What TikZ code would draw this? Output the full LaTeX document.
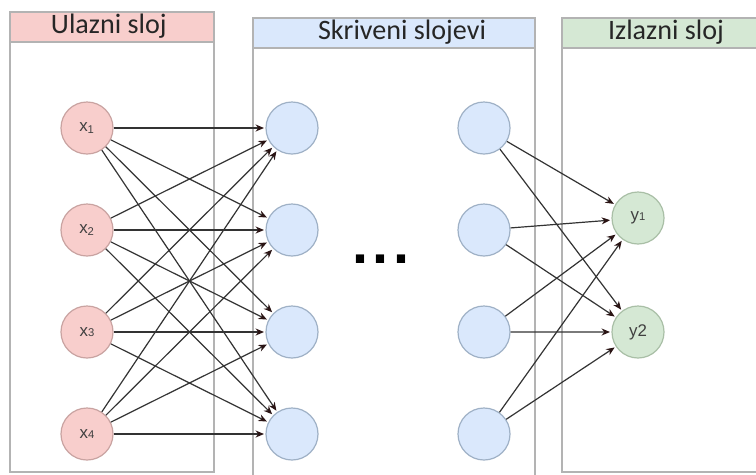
\documentclass[tikz,border=0pt]{standalone}
\usepackage{fontspec}
\setmainfont{Liberation Sans}
\newfontfamily\titlefont{Carlito}
\usetikzlibrary{arrows.meta}
\definecolor{inred}{HTML}{F8CECC}
\definecolor{inredline}{HTML}{C9A3A1}
\definecolor{hidblue}{HTML}{DAE8FC}
\definecolor{hidblueline}{HTML}{9FB1C6}
\definecolor{outgreen}{HTML}{D5E8D4}
\definecolor{outgreenline}{HTML}{A9BFA6}
\definecolor{boxgray}{HTML}{B3B3B3}
\definecolor{wiregray}{HTML}{333333}
\definecolor{tipdark}{HTML}{2A1414}
\tikzstyle{inneuron} = [circle, minimum size=1.3cm, inner sep=0pt,
                        draw=inredline, fill=inred, line width=0.3mm,
                        text=black!75, font=\fontsize{12}{14}\selectfont]
\tikzstyle{hidneuron} = [circle, minimum size=1.3cm, inner sep=0pt,
                         draw=hidblueline, fill=hidblue, line width=0.3mm]
\tikzstyle{outneuron} = [circle, minimum size=1.3cm, inner sep=0pt,
                         draw=outgreenline, fill=outgreen, line width=0.3mm,
                         text=black!75, font=\fontsize{12}{14}\selectfont]
\tikzstyle{layer} = [draw=boxgray, line width=0.3mm]
\tikzstyle{layertitle} = [text=black!85, font=\titlefont\fontsize{20}{22}\selectfont]
\tikzstyle{arrow} = [draw=wiregray, line width=0.3mm,
                     -{Stealth[length=6pt, width=5pt, color=tipdark]}, shorten >=1pt]

\begin{document}
\begin{tikzpicture}[node distance=2.55cm]
        \clip (0,0) rectangle (18.9,-11.85);
        \fill[white] (0,0) rectangle (18.9,-11.85);

        %Layer boxes
        \draw [layer] (0.25,-1.05) rectangle (5.35,-11.8);
        \draw [layer, fill=inred] (0.25,-0.3) rectangle (5.35,-1.05);
        \node (inTitle) at (2.72,-0.66) [layertitle] {Ulazni sloj};

        \draw [layer] (6.325,-1.2) rectangle (13.375,-12.2);
        \draw [layer, fill=hidblue] (6.325,-0.45) rectangle (13.375,-1.2);
        \node (hidTitle) at (10.05,-0.81) [layertitle] {Skriveni slojevi};

        \draw [layer] (14.05,-1.2) rectangle (19.5,-11.8);
        \draw [layer, fill=outgreen] (14.05,-0.45) rectangle (19.5,-1.2);
        \node (outTitle) at (16.65,-0.81) [layertitle] {Izlazni sloj};

        %Input neurons
        \node (x1) at (2.175,-3.2) [inneuron] {x\textsubscript{1}};
        \node (x2) [inneuron, below of = x1] {x\textsubscript{2}};
        \node (x3) [inneuron, below of = x2] {x{\footnotesize 3}};
        \node (x4) [inneuron, below of = x3] {x{\footnotesize 4}};

        %Hidden neurons, first column
        \node (a1) at (7.3,-3.2) [hidneuron] {};
        \node (a2) [hidneuron, below of = a1] {};
        \node (a3) [hidneuron, below of = a2] {};
        \node (a4) [hidneuron, below of = a3] {};

        %Hidden neurons, last column
        \node (b1) at (12.1,-3.2) [hidneuron] {};
        \node (b2) [hidneuron, below of = b1] {};
        \node (b3) [hidneuron, below of = b2] {};
        \node (b4) [hidneuron, below of = b3] {};

        \node (dots) at (9.525,-6.575) [anchor=base, inner sep=0pt]
              {\fontsize{41}{41}\selectfont\bfseries .\kern3.5pt.\kern3.5pt.};

        %Output neurons
        \node (y1) at (15.95,-5.45) [outneuron] {y{\footnotesize 1}};
        \node (y2) at (15.95,-8.3) [outneuron] {y2};

        %Lines from x1
        \draw [arrow] (x1) -- (a1);
        \draw [arrow] (x1) -- (a2);
        \draw [arrow] (x1) -- (a3);
        \draw [arrow] (x1) -- (a4);

        %Lines from x2
        \draw [arrow] (x2) -- (a1);
        \draw [arrow] (x2) -- (a2);
        \draw [arrow] (x2) -- (a3);
        \draw [arrow] (x2) -- (a4);

        %Lines from x3
        \draw [arrow] (x3) -- (a1);
        \draw [arrow] (x3) -- (a2);
        \draw [arrow] (x3) -- (a3);
        \draw [arrow] (x3) -- (a4);

        %Lines from x4
        \draw [arrow] (x4) -- (a1);
        \draw [arrow] (x4) -- (a2);
        \draw [arrow] (x4) -- (a3);
        \draw [arrow] (x4) -- (a4);

        %Lines to y1
        \draw [arrow] (b1) -- (y1);
        \draw [arrow] (b2) -- (y1);
        \draw [arrow] (b3) -- (y1);
        \draw [arrow] (b4) -- (y1);

        %Lines to y2
        \draw [arrow] (b1) -- (y2);
        \draw [arrow] (b2) -- (y2);
        \draw [arrow] (b3) -- (y2);
        \draw [arrow] (b4) -- (y2);

    \end{tikzpicture}
\end{document}
